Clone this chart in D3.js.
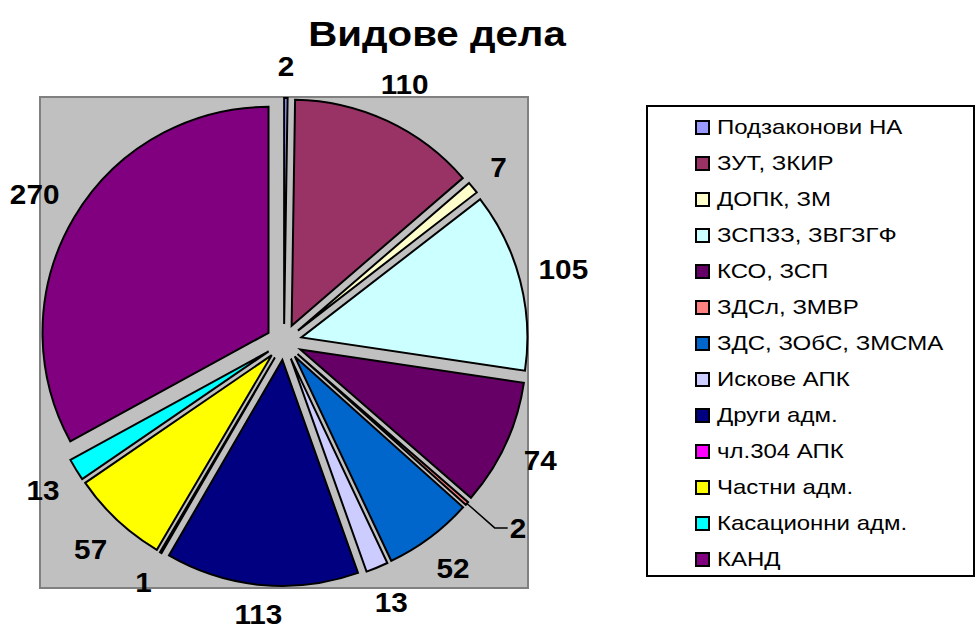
<!DOCTYPE html>
<html>
<head>
<meta charset="utf-8">
<script src="https://cdn.jsdelivr.net/npm/d3@7"></script>
<style>
  body { margin: 0; background: #fff; }
  text { font-family: "Liberation Sans", Arial, sans-serif; }
</style>
</head>
<body>
<svg id="chart" width="976" height="632"></svg>
<script>
// Data
const categories = ["Подзаконови НА", "ЗУТ, ЗКИР", "ДОПК, ЗМ", "ЗСПЗЗ, ЗВГЗГФ", "КСО, ЗСП",
    "ЗДСл, ЗМВР", "ЗДС, ЗОбС, ЗМСМА", "Искове АПК", "Други адм.", "чл.304 АПК",
    "Частни адм.", "Касационни адм.", "КАНД"];
const values = [2, 110, 7, 105, 74, 2, 52, 13, 113, 1, 57, 13, 270];
const colors = ["#9999FF", "#993366", "#FFFFCC", "#CCFFFF", "#660066", "#FF8080", "#0066CC",
    "#CCCCFF", "#000080", "#FF00FF", "#FFFF00", "#00FFFF", "#800080"];
const titleText = "Видове дела";

const svg = d3.select("#chart");
const stretch = 1.15; // the original text is drawn a bit wide

// Plot area
const plot = {x: 40, y: 97, w: 488, h: 491};
svg.append("rect")
    .attr("x", plot.x).attr("y", plot.y)
    .attr("width", plot.w).attr("height", plot.h)
    .attr("fill", "#C0C0C0")
    .attr("stroke", "#808080")
    .attr("stroke-width", 2);

// Title
svg.append("text")
    .attr("transform", `translate(437,46) scale(${stretch},1)`)
    .attr("text-anchor", "middle")
    .attr("font-size", 35)
    .attr("font-weight", "bold")
    .text(titleText);

// Pie
const cx = 284, cy = 342;
const radius = 226;
const explode = 18;

const pie = d3.pie().sort(null).value(d => d.value);
const arcs = pie(categories.map((c, i) => ({name: c, value: values[i], color: colors[i]})));
const arc = d3.arc().innerRadius(0).outerRadius(radius);
const mid = d => (d.startAngle + d.endAngle) / 2;

const g = svg.append("g").attr("transform", `translate(${cx},${cy})`);

g.selectAll("path.slice")
    .data(arcs)
    .join("path")
    .attr("class", "slice")
    .attr("transform", d => `translate(${explode * Math.sin(mid(d))},${-explode * Math.cos(mid(d))})`)
    .attr("d", arc)
    .attr("fill", d => d.data.color)
    .attr("stroke", "#000")
    .attr("stroke-width", 2)
    .attr("stroke-linejoin", "miter");

// Data labels (outside end), the tiny ЗДСл slice gets a leader line
const labelFont = 27;
const labelStretch = 1.1;
const gap = 17;
const maxLabelY = 614 - cy; // keep the bottom label inside the page
function addLabel(x, y, txt, anchor) {
    g.append("text")
        .attr("transform", `translate(${x},${Math.min(y, maxLabelY)}) scale(${labelStretch},1)`)
        .attr("dy", "0.36em")
        .attr("text-anchor", anchor)
        .attr("font-size", labelFont)
        .attr("font-weight", "bold")
        .text(txt);
}
arcs.forEach((d, i) => {
    const a = mid(d);
    const s = Math.sin(a), c = -Math.cos(a);
    const txt = String(d.value);
    const hw = txt.length * labelFont * 0.556 * labelStretch / 2, hh = labelFont * 0.55;
    if (i === 5) {
        const r0 = radius + explode, r1 = radius + explode + 37;
        const p0 = [r0 * s, r0 * c], p1 = [r1 * s, r1 * c];
        g.append("path")
            .attr("d", `M${p0[0]},${p0[1]}L${p1[0]},${p1[1]}H${p1[0] + 13}`)
            .attr("fill", "none")
            .attr("stroke", "#000")
            .attr("stroke-width", 1.5);
        addLabel(p1[0] + 15, p1[1], txt, "start");
        return;
    }
    const rl = radius + explode + gap + hw * Math.abs(s) + hh * Math.abs(c);
    addLabel(rl * s, rl * c, txt, "middle");
});

// Legend
const legend = {x: 647, y: 106, w: 327, h: 470};
svg.append("rect")
    .attr("x", legend.x).attr("y", legend.y)
    .attr("width", legend.w).attr("height", legend.h)
    .attr("fill", "#fff")
    .attr("stroke", "#000")
    .attr("stroke-width", 2);

const rowY = d3.scalePoint().domain(categories).range([127, 559]);
const items = svg.append("g").selectAll("g")
    .data(arcs)
    .join("g")
    .attr("transform", d => `translate(696,${rowY(d.data.name)})`);
items.append("rect")
    .attr("x", 0).attr("y", -6)
    .attr("width", 13).attr("height", 13)
    .attr("fill", d => d.data.color)
    .attr("stroke", "#000")
    .attr("stroke-width", 2);
items.append("text")
    .attr("transform", `translate(21,0) scale(1.2,1)`)
    .attr("dy", "0.36em")
    .attr("font-size", 20)
    .text(d => d.data.name);
</script>
</body>
</html>
